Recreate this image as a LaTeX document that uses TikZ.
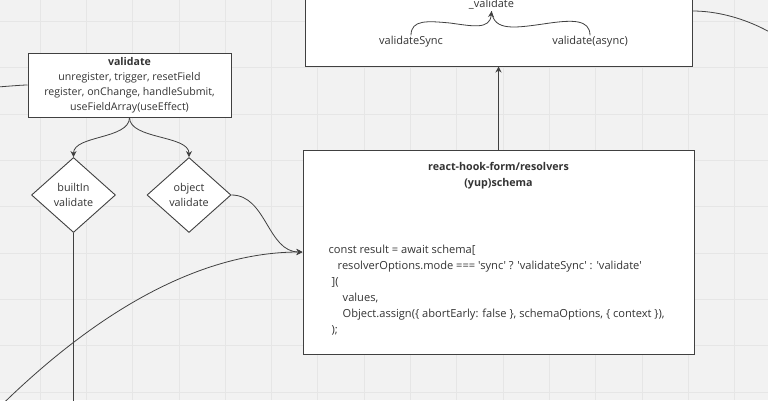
\documentclass[tikz,border=0pt]{standalone}
\usepackage{fontspec}
\setmainfont{Open Sans}[Ligatures=TeXOff]
\usepackage{xcolor}
\usepackage{tikz}
\usetikzlibrary{positioning, arrows.meta, shapes.geometric}
\definecolor{canvas}{HTML}{F2F2F2}
\definecolor{gridgray}{HTML}{E6E6E6}
\definecolor{inkgray}{HTML}{404040}
\definecolor{textgray}{HTML}{333333}

\begin{document}
\begin{tikzpicture}[x=1pt, y=-1pt,
    every node/.style={font=\fontsize{11}{15}\selectfont, text=textgray},
    box/.style={draw=inkgray, fill=white, line width=1pt, inner sep=0pt},
    decision/.style={diamond, draw=inkgray, fill=white, line width=0.9pt,
                     font=\fontsize{10.8}{15}\selectfont,
                     inner sep=0pt, minimum width=84pt, minimum height=75pt, align=center},
    codetext/.style={font=\fontsize{11.1}{16}\selectfont, align=left, inner sep=0pt},
    flow/.style={draw=inkgray, line width=0.8pt, -{Stealth[length=6pt, width=6pt]}},
    link/.style={draw=inkgray, line width=0.8pt},
    gridline/.style={draw=gridgray, line width=0.8pt}]
    \useasboundingbox (0,0) rectangle (768,400);
    \clip (0,0) rectangle (768,400);
    \fill[canvas] (0,0) rectangle (768,400);
    \foreach \gx in {0,...,15}
        \draw[gridline] ({40+46.3*\gx},0) -- ++(0,400);
    \foreach \gy in {0,...,8}
        \draw[gridline] (0,{21.5+46.3*\gy}) -- ++(768,0);

    \node[box, minimum width=387pt, minimum height=110pt] (valid) at (498.5,11) {};
    \node[inner sep=2pt] (valtitle) at (491.5,4) {\_validate};
    \node[inner sep=1pt] (syncL) at (411,42) {validateSync};
    \node[inner sep=1pt] (asyncL) at (590,42) {validate(async)};

    \node[box, minimum width=391pt, minimum height=204pt] (res) at (498.5,252) {};
    \node[align=center, inner sep=0pt, font=\fontsize{10.7}{16}\selectfont,
          below=13pt of res.north] (restitle)
        {\textbf{react-hook-form/resolvers}\\\textbf{(yup)schema}};
    \node[codetext, below right=95pt and 26pt of res.north west] (code)
        {const result = await schema[\\
         \hspace*{9pt}resolverOptions.mode === 'sync' ? 'validateSync' : 'validate'\\
         \hspace*{3pt}](\\
         \hspace*{14pt}values,\\
         \hspace*{14pt}Object.assign(\{ abortEarly: false \}, schemaOptions, \{ context \}),\\
         \hspace*{3pt});};

    \node[box, minimum width=203pt, minimum height=64pt, align=center,
          font=\fontsize{10.6}{15}\selectfont] (valbox) at (129.5,85)
        {\textbf{validate}\\unregister, trigger, resetField\\register, onChange, handleSubmit,\\useFieldArray(useEffect)};
    \node[decision] (builtin) at (73.5,195) {builtIn\\validate};
    \node[decision] (objval) at (189,195) {object\\validate};

    \coordinate (inL) at (-40,89);
    \coordinate (inB) at (-25,432);
    \coordinate (outD) at (73.5,420);
    \coordinate (outR) at (820,75);

    \draw[link] (inL) .. controls +(20,0) and +(-10,0) .. (valbox.west);
    \draw[flow] (valbox.south) .. controls +(0,22) and +(0,-22) .. (builtin.north);
    \draw[flow] (valbox.south) .. controls +(0,22) and +(0,-22) .. (objval.north);
    \draw[link] (builtin.south) -- (outD);
    \draw[flow] (objval.east) .. controls +(35,0) and +(-35,0) .. (res.west);
    \draw[flow] (inB) .. controls (110,290) and (220,252) .. (res.west);
    \draw[flow] (res.north) -- (valid.south);
    \draw[link] (valid.east) .. controls +(45,0) and +(-30,-40) .. (outR);

    \draw[flow] (syncL.north) .. controls +(0,-16) and (428,21) .. (450,23)
        .. controls (472,26) and (490,30) .. (valtitle.south);
    \draw[link] (asyncL.north) .. controls +(0,-16) and (572,20) .. (550,23)
        .. controls (515,28) and (494,32) .. (valtitle.south);
\end{tikzpicture}
\end{document}
